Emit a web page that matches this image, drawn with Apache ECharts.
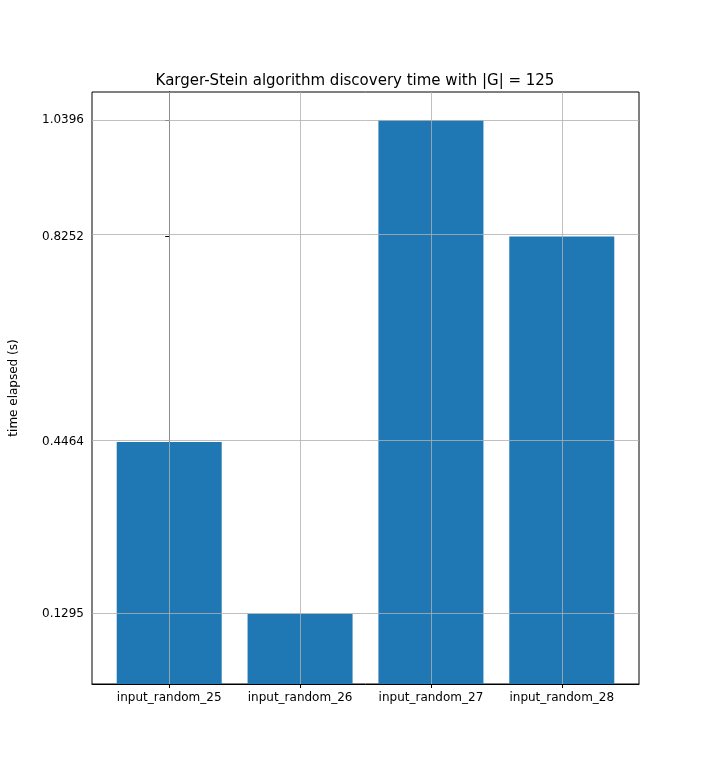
<!DOCTYPE html>
<html><head><meta charset="utf-8">
<script src="https://cdn.jsdelivr.net/npm/echarts@6/dist/echarts.min.js"></script>
<style>html,body{margin:0;padding:0;background:#fff}#c{width:710px;height:769px}</style>
</head><body><div id="c"></div>
<script>
const categories = ["input_random_25","input_random_26","input_random_27","input_random_28"];
const values = [0.4464, 0.1295, 1.0396, 0.8252];
const yTicks = [0.1295, 0.4464, 0.8252, 1.0396];
const xPos = categories.map((c,i)=>i);
const font = "DejaVu Sans";
const chart = echarts.init(document.getElementById('c'));
const gridLines = [];
xPos.forEach(x=>gridLines.push({xAxis:x}));
yTicks.forEach(y=>gridLines.push({yAxis:y}));
chart.setOption({
  animation:false,
  title:{text:"Karger-Stein algorithm discovery time with |G| = 125",left:'center',top:69,
    textStyle:{fontFamily:font,fontSize:15,fontWeight:'normal',color:'#000'}},
  grid:{left:89,top:92,width:550,height:592,show:true,borderColor:'#000',borderWidth:1,backgroundColor:'transparent'},
  xAxis:{type:'value',min:-0.59,max:3.59,
    axisLine:{show:true,lineStyle:{color:'#000'}},
    axisTick:{show:true,customValues:xPos,length:4,lineStyle:{color:'#000'}},
    axisLabel:{customValues:xPos,formatter:v=>categories[Math.round(v)],fontFamily:font,fontSize:12,color:'#000',margin:8},
    splitLine:{show:false}},
  yAxis:{type:'value',min:0,max:1.0916,name:'time elapsed (s)',nameLocation:'middle',nameGap:72,
    nameTextStyle:{fontFamily:font,fontSize:12,color:'#000'},
    axisLine:{show:true,lineStyle:{color:'#000'}},
    axisTick:{show:true,customValues:yTicks,length:4,lineStyle:{color:'#000'}},
    axisLabel:{customValues:yTicks,formatter:v=>v.toFixed(4),fontFamily:font,fontSize:12,color:'#000'},
    splitLine:{show:false}},
  series:[{type:'bar',data:xPos.map((x,i)=>[x,values[i]]),barWidth:105,itemStyle:{color:'#1f77b4'},
    markLine:{silent:true,symbol:'none',label:{show:false},z:10,
      lineStyle:{color:'#b0b0b0',type:'solid',width:0.8},data:gridLines}}]
});
</script></body></html>
